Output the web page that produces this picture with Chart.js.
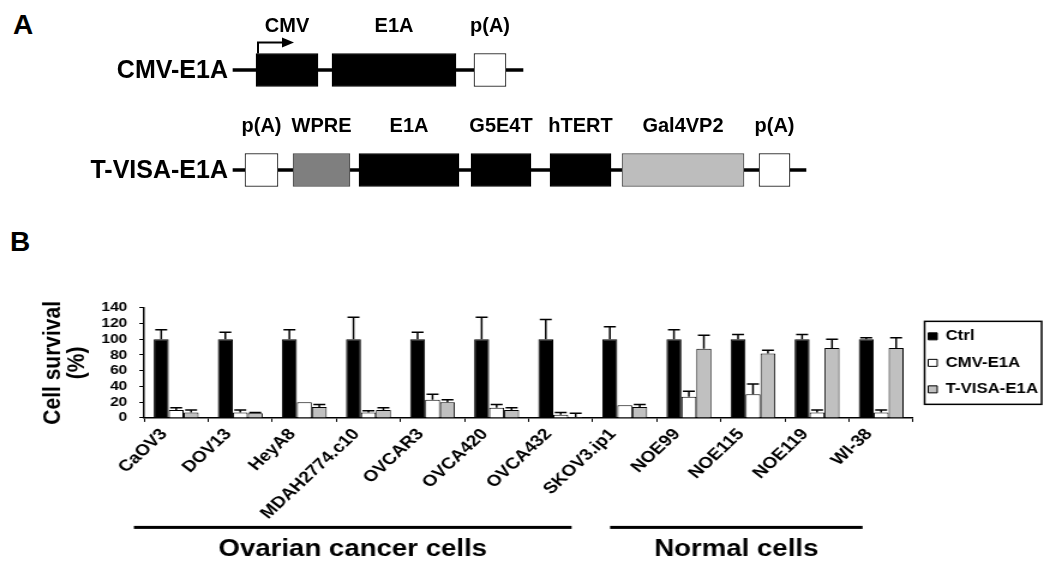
<!DOCTYPE html>
<html>
<head>
<meta charset="utf-8">
<script src="https://cdn.jsdelivr.net/npm/chart.js@4.4.1/dist/chart.umd.min.js"></script>
<style>
  body { margin: 0; background: #fff; }
  #figura { position: relative; width: 1050px; height: 566px; overflow: hidden; font-family: "Liberation Sans", Arial, sans-serif; }
  .panel { position: absolute; font-weight: bold; font-size: 28px; line-height: 1; }
  #mapa { position: absolute; left: 0; top: 0; }
  #barras { position: absolute; left: 0; top: 290px; }
</style>
</head>
<body>
<div id="figura">
  <div class="panel" style="left:13px;top:11px">A</div>
  <div class="panel" style="left:10px;top:228px">B</div>
  <canvas id="mapa" width="1050" height="240"></canvas>
  <!-- el panel B de la figura original está estirado en horizontal -->
  <canvas id="barras" width="875" height="276" style="width:1050px;height:276px"></canvas>
</div>
<script>
// ******************************* DATOS ****************************
// Panel A: constructos (posiciones en unidades del mapa)
const constructos = ["CMV-E1A", "T-VISA-E1A"];
const partesCmv = ["CMV", "E1A", "p(A)"];
const tramosCmv = [[25.6, 31.8], [33.2, 45.6], [47.4, 50.6]];
const partesTvisa = ["p(A)", "WPRE", "E1A", "G5E4T", "hTERT", "Gal4VP2", "p(A)"];
const tramosTvisa = [[24.5, 27.8], [29.3, 35.0], [35.9, 45.9], [47.1, 53.1], [55.0, 61.1], [62.2, 74.4], [75.9, 79.0]];
const esqueleto = [[23.3, 52.3], [23.3, 80.6]];

// Panel B: supervivencia celular (%)
const lineasCelulares = ["CaOV3", "DOV13", "HeyA8", "MDAH2774.c10", "OVCAR3", "OVCA420",
  "OVCA432", "SKOV3.ip1", "NOE99", "NOE115", "NOE119", "WI-38"];
const ctrl = [100, 100, 100, 100, 100, 100, 100, 100, 100, 100, 100, 100];
const ctrlError = [12, 9, 12, 28, 9, 28, 25, 16, 12, 6, 6, 2];
const cmvE1A = [10, 7, 20, 7, 23, 13, 4, 16, 27, 30, 7, 7];
const cmvE1AError = [3, 3, 0, 2, 7, 4, 3, 0, 7, 13, 3, 3];
const tvisaE1A = [7, 6, 14, 10, 20, 10, 1, 14, 88, 82, 89, 89];
const tvisaE1AError = [3, 1, 3, 3, 3, 3, 5, 3, 17, 4, 11, 13];
const ticksY = [0, 20, 40, 60, 80, 100, 120, 140];

// Grupos bajo el eje (en unidades de categoría)
const grupos = ["Ovarian cancer cells", "Normal cells"];
const tramosGrupos = [[-0.66, 6.17], [6.77, 10.71]];

const FUENTE = '"Liberation Sans", Arial, sans-serif';
Chart.defaults.font.family = FUENTE;
Chart.defaults.color = "#000";

// ************************* PANEL A: MAPA DE CONSTRUCTOS *******************
const colorParte = {
  "CMV": "#000", "E1A": "#000", "p(A)": "#fff", "WPRE": "#7f7f7f",
  "G5E4T": "#000", "hTERT": "#000", "Gal4VP2": "#bdbdbd"
};

const datasetsMapa = partesTvisa.map(function (parte, i) {
  const nombres = [partesCmv[i] || null, parte];
  return {
    label: "parte " + i,
    data: [tramosCmv[i] || null, tramosTvisa[i]],
    nombres: nombres,
    backgroundColor: nombres.map(function (n) { return colorParte[n] || "#000"; }),
    borderColor: nombres.map(function (n) { return n === "WPRE" || n === "Gal4VP2" ? "#444" : "#000"; }),
    borderWidth: 1,
    borderSkipped: false,
    barThickness: 33,
    grouped: false,
    order: 1,
  };
});
datasetsMapa.push({
  label: "esqueleto",
  data: esqueleto,
  esqueleto: true,
  backgroundColor: "#000",
  borderWidth: 0,
  barThickness: 3,
  grouped: false,
  order: 5,
});

/**
 * Escribe el nombre de cada elemento, el del constructo y
 * la flecha del promotor CMV
 */
const etiquetasMapa = {
  id: "etiquetasMapa",
  afterDatasetsDraw(chart) {
    const ctx = chart.ctx;
    ctx.save();
    ctx.fillStyle = "#000";
    ctx.strokeStyle = "#000";
    ctx.textBaseline = "middle";
    chart.data.datasets.forEach(function (ds, i) {
      chart.getDatasetMeta(i).data.forEach(function (el, j) {
        if (ds.data[j] === null) return;
        const izq = Math.min(el.x, el.base);
        const der = Math.max(el.x, el.base);
        if (ds.esqueleto) {
          ctx.font = "bold 25px " + FUENTE;
          ctx.textAlign = "right";
          ctx.fillText(constructos[j], izq - 5, el.y + 1);
          return;
        }
        const arriba = el.y - el.height / 2;
        ctx.font = "bold 20px " + FUENTE;
        ctx.textAlign = "center";
        ctx.fillText(ds.nombres[j], (izq + der) / 2, arriba - 27);
        if (ds.nombres[j] === "CMV") {
          // flecha de inicio de transcripción
          const x0 = izq + 2;
          ctx.lineWidth = 2;
          ctx.beginPath();
          ctx.moveTo(x0, arriba);
          ctx.lineTo(x0, arriba - 11);
          ctx.lineTo(x0 + 26, arriba - 11);
          ctx.stroke();
          ctx.beginPath();
          ctx.moveTo(x0 + 36, arriba - 11);
          ctx.lineTo(x0 + 24, arriba - 16);
          ctx.lineTo(x0 + 24, arriba - 6);
          ctx.closePath();
          ctx.fill();
        }
      });
    });
    ctx.restore();
  },
};

new Chart(document.getElementById("mapa"), {
  type: "bar",
  data: { labels: constructos, datasets: datasetsMapa },
  options: {
    indexAxis: "y",
    responsive: false,
    animation: false,
    layout: { padding: { top: 20, bottom: 20, left: 0, right: 0 } },
    scales: {
      x: { type: "linear", min: 0, max: 105, display: false },
      y: { display: false },
    },
    plugins: { legend: { display: false }, tooltip: { enabled: false } },
  },
  plugins: [etiquetasMapa],
});

// *********************** PANEL B: GRÁFICO DE BARRAS ************************
/**
 * Barras de error (solo hacia arriba)
 */
const barrasError = {
  id: "barrasError",
  afterDatasetsDraw(chart) {
    const ctx = chart.ctx;
    const escalaY = chart.scales.y;
    ctx.save();
    ctx.strokeStyle = "#000";
    ctx.lineWidth = 1.5;
    chart.data.datasets.forEach(function (ds, i) {
      chart.getDatasetMeta(i).data.forEach(function (barra, j) {
        const err = ds.errores[j];
        if (!err) return;
        const yFin = escalaY.getPixelForValue(ds.data[j] + err);
        const mitad = barra.width * 0.4;
        ctx.beginPath();
        ctx.moveTo(barra.x, barra.y);
        ctx.lineTo(barra.x, yFin);
        ctx.moveTo(barra.x - mitad, yFin);
        ctx.lineTo(barra.x + mitad, yFin);
        ctx.stroke();
      });
    });
    ctx.restore();
  },
};

/**
 * Recuadro alrededor de la leyenda
 */
const marcoLeyenda = {
  id: "marcoLeyenda",
  afterDraw(chart) {
    const cajas = chart.legend.legendHitBoxes;
    if (!cajas || !cajas.length) return;
    let izq = Infinity, der = -Infinity, arriba = Infinity, abajo = -Infinity;
    cajas.forEach(function (c) {
      izq = Math.min(izq, c.left);
      der = Math.max(der, c.left + c.width);
      arriba = Math.min(arriba, c.top);
      abajo = Math.max(abajo, c.top + c.height);
    });
    izq -= 3;
    der = Math.min(der + 3, chart.width - 1);
    const ctx = chart.ctx;
    ctx.save();
    ctx.strokeStyle = "#000";
    ctx.lineWidth = 1.5;
    ctx.strokeRect(izq, arriba - 8, der - izq, abajo - arriba + 16);
    ctx.restore();
  },
};

/**
 * Líneas y nombres de los grupos de células bajo el eje X
 */
const gruposCelulas = {
  id: "gruposCelulas",
  afterDraw(chart) {
    const ctx = chart.ctx;
    const escalaX = chart.scales.x;
    const base = chart.chartArea.bottom;
    ctx.save();
    ctx.fillStyle = "#000";
    ctx.font = "bold 23px " + FUENTE;
    ctx.textAlign = "center";
    ctx.textBaseline = "middle";
    grupos.forEach(function (nombre, i) {
      const x0 = escalaX.getPixelForValue(tramosGrupos[i][0]);
      const x1 = escalaX.getPixelForValue(tramosGrupos[i][1]);
      ctx.fillRect(x0, base + 108, x1 - x0, 3);
      ctx.fillText(nombre, (x0 + x1) / 2, base + 132);
    });
    ctx.restore();
  },
};

new Chart(document.getElementById("barras"), {
  type: "bar",
  data: {
    labels: lineasCelulares,
    datasets: [
      { label: "Ctrl", data: ctrl, errores: ctrlError, backgroundColor: "#000" },
      { label: "CMV-E1A", data: cmvE1A, errores: cmvE1AError, backgroundColor: "#fff" },
      { label: "T-VISA-E1A", data: tvisaE1A, errores: tvisaE1AError, backgroundColor: "#c0c0c0" },
    ],
  },
  options: {
    responsive: false,
    animation: false,
    layout: { padding: { left: 30, right: 0, top: 15, bottom: 40 } },
    datasets: {
      bar: { categoryPercentage: 0.7, barPercentage: 1, borderColor: "#000", borderWidth: 1 },
    },
    scales: {
      x: {
        grid: { drawOnChartArea: false, tickLength: 4, color: "#000" },
        border: { color: "#000", width: 1.5 },
        ticks: {
          autoSkip: false, minRotation: 48, maxRotation: 48, labelOffset: -10,
          font: { size: 16, weight: "bold" }, color: "#000",
        },
      },
      y: {
        min: 0,
        max: 140,
        afterBuildTicks: function (escala) {
          escala.ticks = ticksY.map(function (v) { return { value: v }; });
        },
        grid: { drawOnChartArea: false, tickLength: 4, color: "#000" },
        border: { color: "#000", width: 1.5 },
        ticks: { autoSkip: false, padding: 10, font: { size: 13, weight: "bold" }, color: "#000" },
        title: {
          display: true,
          text: ["Cell survival", "(%)"],
          font: { size: 21, weight: "bold", lineHeight: 0.95 },
          color: "#000",
          padding: { top: 4.5, bottom: 0 },
        },
      },
    },
    plugins: {
      legend: {
        position: "right",
        fullSize: false,
        labels: {
          boxWidth: 7.5, boxHeight: 7, padding: 12.5,
          font: { size: 14, weight: "bold" }, color: "#000",
        },
      },
      tooltip: { enabled: false },
    },
  },
  plugins: [barrasError, marcoLeyenda, gruposCelulas],
});
</script>
</body>
</html>
